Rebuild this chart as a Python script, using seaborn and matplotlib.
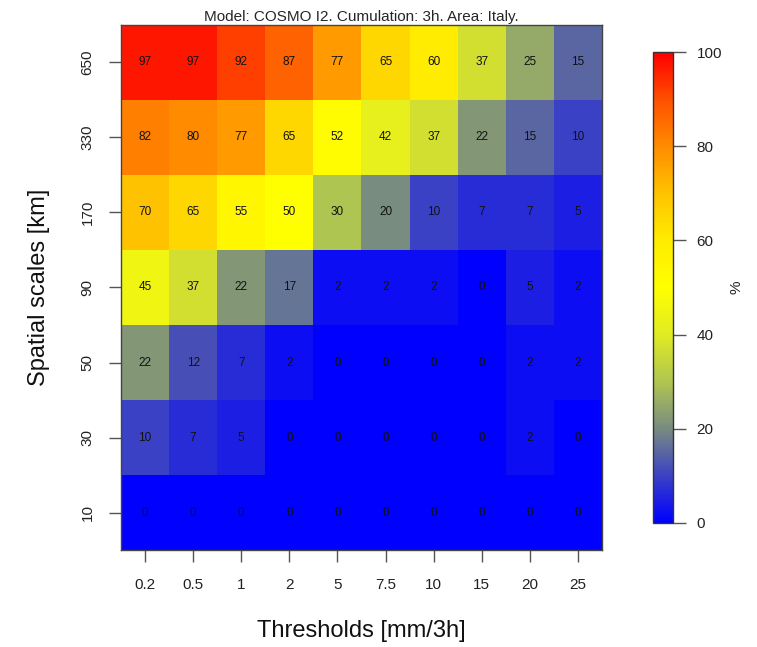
import numpy as np
import pandas as pd
import matplotlib
matplotlib.use("Agg")
import matplotlib.pyplot as plt
from matplotlib.colors import LinearSegmentedColormap
import seaborn as sns

# Thresholds (columns) and spatial scales (rows, top to bottom)
thresholds = ["0.2", "0.5", "1", "2", "5", "7.5", "10", "15", "20", "25"]
scales = ["650", "330", "170", "90", "50", "30", "10"]

row_650 = [97, 97, 92, 87, 77, 65, 60, 37, 25, 15]
row_330 = [82, 80, 77, 65, 52, 42, 37, 22, 15, 10]
row_170 = [70, 65, 55, 50, 30, 20, 10, 7, 7, 5]
row_90 = [45, 37, 22, 17, 2, 2, 2, 0, 5, 2]
row_50 = [22, 12, 7, 2, 0, 0, 0, 0, 2, 2]
row_30 = [10, 7, 5, 0, 0, 0, 0, 0, 2, 0]
row_10 = [0, 0, 0, 0, 0, 0, 0, 0, 0, 0]

data = pd.DataFrame([row_650, row_330, row_170, row_90, row_50, row_30, row_10],
                    index=scales, columns=thresholds)

sns.set_style("white")
plt.rcParams["font.family"] = ["Liberation Sans", "DejaVu Sans"]

# blue -> grey -> yellow -> red ramp
nodes = [
    (0.0, (0, 0, 255)),
    (0.1, (60, 66, 195)),
    (0.2, (120, 140, 128)),
    (0.3, (176, 198, 80)),
    (0.4, (225, 235, 35)),
    (0.5, (255, 255, 0)),
    (0.6, (255, 236, 0)),
    (0.7, (255, 195, 0)),
    (0.8, (255, 140, 0)),
    (0.9, (255, 80, 0)),
    (1.0, (255, 0, 0)),
]
cmap = LinearSegmentedColormap.from_list(
    "ramp", [(p, tuple(c / 255 for c in rgb)) for p, rgb in nodes])

fig = plt.figure(figsize=(7.57, 6.47), dpi=100)
ax = fig.add_axes([0.1598, 0.1499, 0.6354, 0.8115])
cax = fig.add_axes([0.8626, 0.1917, 0.0264, 0.7279])

sns.heatmap(data, ax=ax, cbar_ax=cax, cmap=cmap, vmin=0, vmax=100,
            annot=True, fmt="d",
            annot_kws={"fontsize": 8.5, "color": "#111111"},
            cbar_kws={"ticks": [0, 20, 40, 60, 80, 100]})

for s in ax.spines.values():
    s.set_visible(True)
    s.set_color("#444444")
    s.set_linewidth(1.0)

ax.set_title("Model: COSMO I2. Cumulation: 3h. Area: Italy.", fontsize=11, pad=3)
ax.set_xlabel("Thresholds [mm/3h]", fontsize=17, labelpad=20, color="#111111")
ax.set_ylabel("Spatial scales [km]", fontsize=17, labelpad=22, color="#111111")

ax.tick_params(axis="x", length=8.5, width=1, color="#555555", pad=12,
               labelsize=11, labelcolor="#222222", bottom=True)
ax.tick_params(axis="y", length=9, width=1, color="#555555", pad=10,
               labelsize=11, labelcolor="#222222", left=True)
plt.setp(ax.get_xticklabels(), rotation=0)
plt.setp(ax.get_yticklabels(), rotation=90, va="center")

cbar = ax.collections[0].colorbar
cbar.outline.set_edgecolor("#333333")
cbar.outline.set_linewidth(1.0)
cax.tick_params(length=9, width=1, color="#555555", pad=8,
                labelsize=11, labelcolor="#222222")
cbar.set_label("%", fontsize=11, labelpad=5)

fig.savefig("out.png", dpi=100)
